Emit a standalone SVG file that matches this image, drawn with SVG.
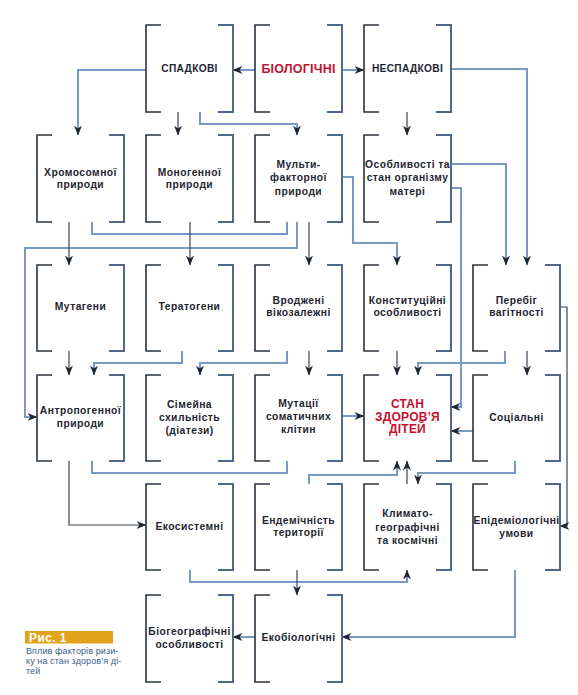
<svg xmlns="http://www.w3.org/2000/svg" width="578" height="695" viewBox="0 0 578 695">
<defs>
<marker id="ah" markerUnits="userSpaceOnUse" markerWidth="10" markerHeight="8" refX="9.5" refY="4" orient="auto" viewBox="0 0 10 8">
<path d="M0,0 L10,4 L0,8 L3,4 Z" fill="#1f2630"/>
</marker>
<style>
.lb{fill:none;stroke:#2b333e;stroke-width:1.6}
.rb{fill:none;stroke:#4f6789;stroke-width:2}
.cb{fill:none;stroke:#7899c2;stroke-width:2}
.cd{fill:none;stroke:#3a4452;stroke-width:1.2}
.a{marker-end:url(#ah)}
text{font-family:"Liberation Sans",Arial,sans-serif;font-weight:bold;font-size:10.3px;fill:#1e2530;text-anchor:middle;letter-spacing:0.45px}
.red{fill:#c8102e;font-size:12.5px;letter-spacing:0.2px}
.red2{fill:#c8102e;font-size:12px;letter-spacing:0.2px}
.up{font-size:10.2px;letter-spacing:0.3px}
.cap{font-weight:normal;font-size:9px;fill:#3b5d8e;text-anchor:start;letter-spacing:0.1px}
.fig{fill:#fff;font-size:12px;text-anchor:start;letter-spacing:0.4px}
</style>
</defs>
<rect width="578" height="695" fill="#fff"/>

<g id="connectors">
<path class="cb a" d="M255,70 H233"/>
<path class="cb a" d="M342,70 H364"/>
<path class="cb a" d="M146,70 H78 V135"/>
<path class="cb a" d="M451,69 H527 V265"/>
<path class="cd a" d="M178,112 V135"/>
<path class="cb a" d="M200,112 V124 H297 V135"/>
<path class="cd a" d="M407,112 V135"/>
<path class="cb" d="M92,222 V234 H287 V222"/>
<path class="cb a" d="M297,222 V248 H25 V417 H37"/>
<path class="cd a" d="M69,222 V265"/>
<path class="cd a" d="M190,222 V265"/>
<path class="cd a" d="M309,222 V265"/>
<path class="cb a" d="M342,177 H353 V243 H397 V265"/>
<path class="cb a" d="M451,164 H506 V265"/>
<path class="cb a" d="M451,188 H461 V407 H451"/>
<path class="cd a" d="M69,351 V375"/>
<path class="cb a" d="M182,351 V363 H94 V375"/>
<path class="cb a" d="M287,351 V363 H200 V375"/>
<path class="cd a" d="M309,351 V375"/>
<path class="cd a" d="M397,351 V375"/>
<path class="cb a" d="M505,351 V363 H418 V375"/>
<path class="cd a" d="M527,351 V375"/>
<path class="cd a" d="M560,307 H567 V526 H560"/>
<path class="cd a" d="M69,461 V525 H146"/>
<path class="cb" d="M92,461 V473 H287 V461"/>
<path class="cb a" d="M342,416 H364"/>
<path class="cb a" d="M473,431 H451"/>
<path class="cb a" d="M309,484 V475 H397 V461"/>
<path class="cd a" d="M407,484 V461"/>
<path class="cb a" d="M515,461 V473 H418 V484"/>
<path class="cb a" d="M190,570 V582 H407 V570"/>
<path class="cd a" d="M297,570 V595"/>
<path class="cb a" d="M515,570 V637 H342"/>
<path class="cb a" d="M255,637 H233"/>
</g>

<g id="spadkovi">
<path class="lb" d="M161,25 H146 V112 H161"/><path class="rb" d="M218,25 H233 V112 H218"/>
<text class="up" x="189.5" y="71.5">СПАДКОВІ</text>
</g>
<g id="biologichni">
<path class="lb" d="M270,25 H255 V112 H270"/><path class="rb" d="M327,25 H342 V112 H327"/>
<text class="red" x="298.5" y="72.5">БІОЛОГІЧНІ</text>
</g>
<g id="nespadkovi">
<path class="lb" d="M379,25 H364 V112 H379"/><path class="rb" d="M436,25 H451 V112 H436"/>
<text class="up" x="407.5" y="72">НЕСПАДКОВІ</text>
</g>

<g id="khromosomnoi">
<path class="lb" d="M52,135 H37 V222 H52"/><path class="rb" d="M109,135 H124 V222 H109"/>
<text x="80.5" y="176">Хромосомної</text><text x="80.5" y="187.5">природи</text>
</g>
<g id="monogennoi">
<path class="lb" d="M161,135 H146 V222 H161"/><path class="rb" d="M218,135 H233 V222 H218"/>
<text x="189.5" y="176">Моногенної</text><text x="189.5" y="187.5">природи</text>
</g>
<g id="multifaktornoi">
<path class="lb" d="M270,135 H255 V222 H270"/><path class="rb" d="M327,135 H342 V222 H327"/>
<text x="298.5" y="167.5">Мульти-</text><text x="298.5" y="181">факторної</text><text x="298.5" y="194.5">природи</text>
</g>
<g id="osoblyvosti-materi">
<path class="lb" d="M379,135 H364 V222 H379"/><path class="rb" d="M436,135 H451 V222 H436"/>
<text x="407.5" y="167.5">Особливості та</text><text x="407.5" y="181">стан організму</text><text x="407.5" y="194.5">матері</text>
</g>

<g id="mutageny">
<path class="lb" d="M52,265 H37 V351 H52"/><path class="rb" d="M109,265 H124 V351 H109"/>
<text x="80.5" y="310">Мутагени</text>
</g>
<g id="teratogeny">
<path class="lb" d="M161,265 H146 V351 H161"/><path class="rb" d="M218,265 H233 V351 H218"/>
<text x="189.5" y="310">Тератогени</text>
</g>
<g id="vrodzheni">
<path class="lb" d="M270,265 H255 V351 H270"/><path class="rb" d="M327,265 H342 V351 H327"/>
<text x="298.5" y="304">Вроджені</text><text x="298.5" y="316">вікозалежні</text>
</g>
<g id="konstytutsiini">
<path class="lb" d="M379,265 H364 V351 H379"/><path class="rb" d="M436,265 H451 V351 H436"/>
<text x="407.5" y="304">Конституційні</text><text x="407.5" y="316">особливості</text>
</g>
<g id="perebig">
<path class="lb" d="M488,265 H473 V351 H488"/><path class="rb" d="M545,265 H560 V351 H545"/>
<text x="516.5" y="304">Перебіг</text><text x="516.5" y="316">вагітності</text>
</g>

<g id="antropogennoi">
<path class="lb" d="M52,375 H37 V461 H52"/><path class="rb" d="M109,375 H124 V461 H109"/>
<text x="80.5" y="414">Антропогенної</text><text x="80.5" y="427">природи</text>
</g>
<g id="simeina">
<path class="lb" d="M161,375 H146 V461 H161"/><path class="rb" d="M218,375 H233 V461 H218"/>
<text x="189.5" y="407.5">Сімейна</text><text x="189.5" y="420.5">схильність</text><text x="189.5" y="433.5">(діатези)</text>
</g>
<g id="mutatsii">
<path class="lb" d="M270,375 H255 V461 H270"/><path class="rb" d="M327,375 H342 V461 H327"/>
<text x="298.5" y="407">Мутації</text><text x="298.5" y="420">соматичних</text><text x="298.5" y="433">клітин</text>
</g>
<g id="stan">
<path class="lb" d="M379,375 H364 V461 H379"/><path class="rb" d="M436,375 H451 V461 H436"/>
<text class="red2" x="407.5" y="408">СТАН</text><text class="red2" x="407.5" y="420.5">ЗДОРОВ’Я</text><text class="red2" x="407.5" y="433">ДІТЕЙ</text>
</g>
<g id="sotsialni">
<path class="lb" d="M488,375 H473 V461 H488"/><path class="rb" d="M545,375 H560 V461 H545"/>
<text x="516.5" y="420.5">Соціальні</text>
</g>

<g id="ekosystemni">
<path class="lb" d="M161,484 H146 V570 H161"/><path class="rb" d="M218,484 H233 V570 H218"/>
<text x="189.5" y="529.5">Екосистемні</text>
</g>
<g id="endemichnist">
<path class="lb" d="M270,484 H255 V570 H270"/><path class="rb" d="M327,484 H342 V570 H327"/>
<text x="298.5" y="524">Ендемічність</text><text x="298.5" y="536">території</text>
</g>
<g id="klimato">
<path class="lb" d="M379,484 H364 V570 H379"/><path class="rb" d="M436,484 H451 V570 H436"/>
<text x="407.5" y="517">Климато-</text><text x="407.5" y="530.5">географічні</text><text x="407.5" y="543.5">та космічні</text>
</g>
<g id="epidemiologichni">
<path class="lb" d="M488,484 H473 V570 H488"/><path class="rb" d="M545,484 H560 V570 H545"/>
<text x="516.5" y="524">Епідеміологічні</text><text x="516.5" y="537">умови</text>
</g>

<g id="biogeografichni">
<path class="lb" d="M161,595 H146 V682 H161"/><path class="rb" d="M218,595 H233 V682 H218"/>
<text x="189.5" y="635">Біогеографічні</text><text x="189.5" y="647.5">особливості</text>
</g>
<g id="ekobiologichni">
<path class="lb" d="M270,595 H255 V682 H270"/><path class="rb" d="M327,595 H342 V682 H327"/>
<text x="298.5" y="640.5">Екобіологічні</text>
</g>

<g id="caption">
<rect x="25" y="631" width="88" height="12.5" fill="#e3a21a"/>
<text class="fig" x="29" y="642">Рис. 1</text>
<text class="cap" x="26" y="654">Вплив факторів ризи-</text>
<text class="cap" x="26" y="664">ку на стан здоров’я ді-</text>
<text class="cap" x="26" y="673.5">тей</text>
</g>
</svg>
